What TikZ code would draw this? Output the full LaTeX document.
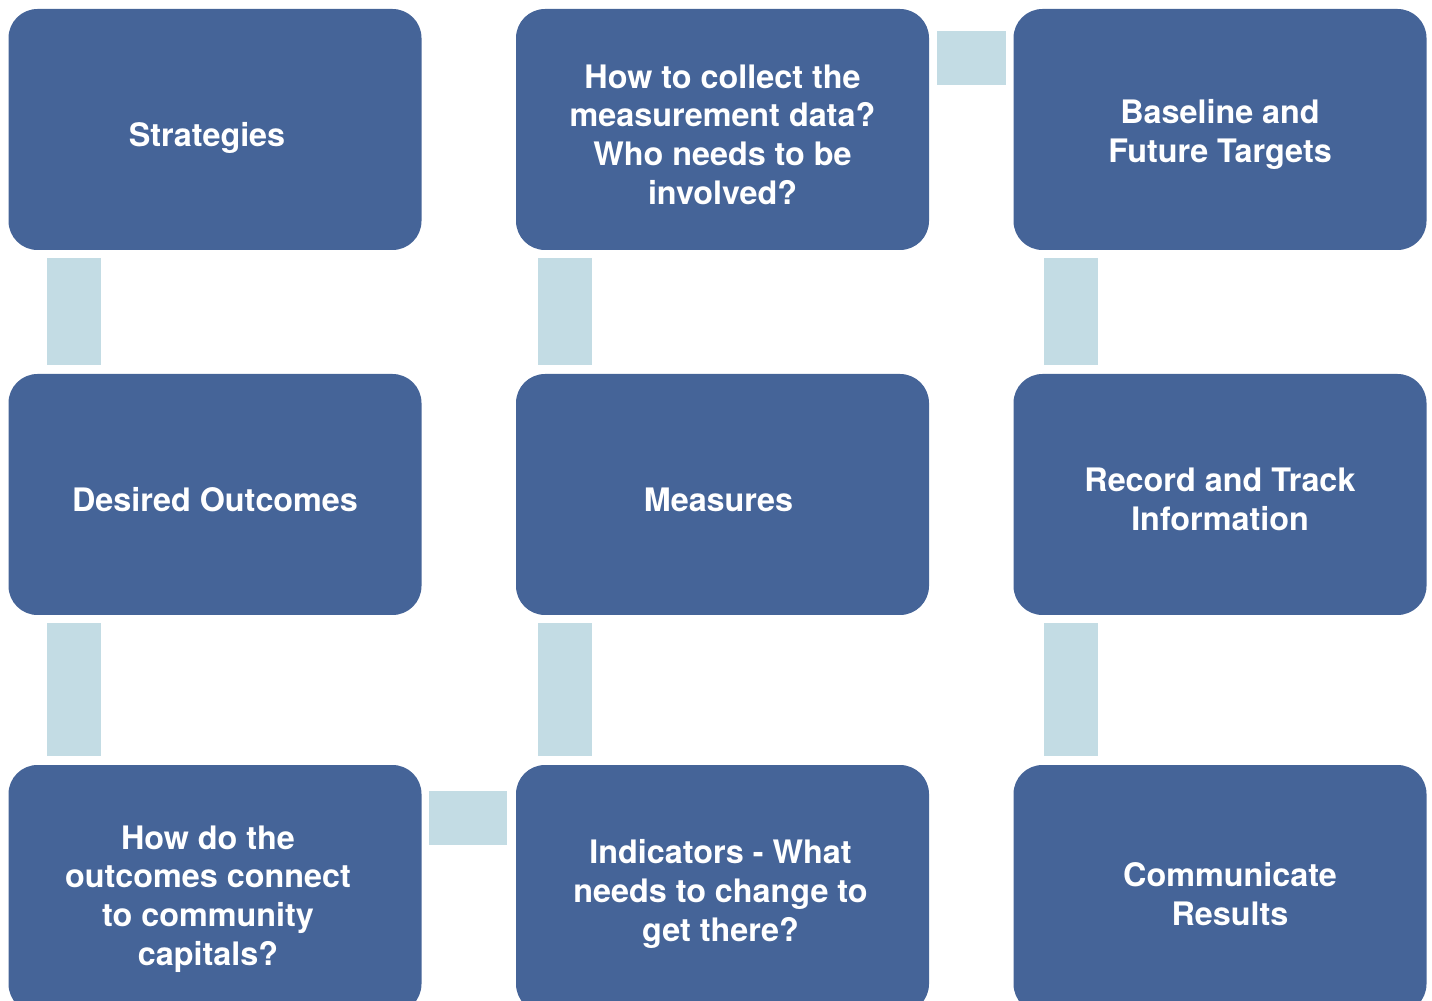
\documentclass[tikz,border=0pt]{standalone}
\usepackage{fontspec}
\setmainfont{TeX Gyre Heros}

\definecolor{cardblue}{RGB}{69,100,152}
\definecolor{linkblue}{RGB}{195,220,228}

\tikzset{
  card/.style={fill=cardblue, rounded corners=0.58cm, minimum width=8.26cm, minimum height=4.82cm, inner sep=0pt},
  cardtext/.style={text=white, align=center, inner sep=0pt, yshift=-0.1cm, font=\fontsize{18.4}{22}\selectfont\bfseries},
  link/.style={draw=linkblue, line width=1.08cm},
}

\begin{document}
\begin{tikzpicture}
\path[use as bounding box, clip] (0,0) rectangle (28.64,20); %page frame

% boxes, three rows of three
\node[card] (strat) at (4.30,17.41) {}; %top left
\node[card] (collect) at (14.45,17.41) {};
\node[card] (base) at (24.40,17.41) {};
\node[card] (outcomes) at (4.30,10.11) {}; %middle row
\node[card] (measures) at (14.45,10.11) {};
\node[card] (record) at (24.40,10.11) {};
\node[card, minimum height=4.96cm] (connect) at (4.30,2.22) {}; %bottom row, cut by the page edge
\node[card, minimum height=4.96cm] (indic) at (14.45,2.22) {};
\node[card, minimum height=4.96cm] (results) at (24.40,2.22) {};

% box texts
\node[cardtext] (strat-t) at ([xshift=-0.16cm,yshift=-0.06cm]strat.center) {Strategies};
\node[cardtext] (collect-t) at (collect.center) {How to collect the\\measurement data?\\Who needs to be\\involved?};
\node[cardtext] (base-t) at (base.center) {Baseline and\\Future Targets};
\node[cardtext] (outcomes-t) at (outcomes.center) {Desired Outcomes};
\node[cardtext] (measures-t) at ([xshift=-0.08cm]measures.center) {Measures};
\node[cardtext] (record-t) at (record.center) {Record and Track\\Information};
\node[cardtext] (connect-t) at ([xshift=-0.14cm,yshift=-0.1cm]connect.center) {How do the\\outcomes connect\\to community\\capitals?};
\node[cardtext] (indic-t) at ([xshift=-0.04cm]indic.center) {Indicators - What\\needs to change to\\get there?};
\node[cardtext] (results-t) at ([xshift=0.2cm]results.center) {Communicate\\Results};

% light bars between the boxes
\foreach \a/\b/\dx in {strat/outcomes/1.32, outcomes/connect/1.32, collect/measures/0.98, measures/indic/0.98, base/record/1.16, record/results/1.16}
  \draw[link] ([xshift=\dx cm, yshift=-0.16cm]\a.south west) -- ([xshift=\dx cm, yshift=0.18cm]\b.north west);
\draw[link] ([xshift=0.16cm, yshift=-0.98cm]collect.north east) -- ([xshift=-0.14cm, yshift=-0.98cm]base.north west); %top bar
\draw[link] ([xshift=0.14cm, yshift=-1.06cm]connect.north east) -- ([xshift=-0.18cm, yshift=-1.06cm]indic.north west); %bottom bar

\end{tikzpicture}
\end{document}
